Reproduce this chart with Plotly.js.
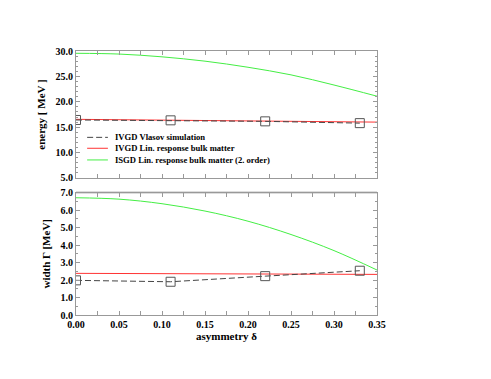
<!DOCTYPE html>
<html>
<head>
<meta charset="utf-8">
<script src="https://cdn.plot.ly/plotly-3.0.1.min.js"></script>
<style>html,body{margin:0;padding:0;background:#fff;}#chart{width:491px;height:379px;}</style>
</head>
<body>
<div id="chart"></div>
<script>
// Simulation points (asymmetry delta)
const vlasovDelta = [0.0, 0.11, 0.22, 0.33];
const vlasovEnergy = [16.42, 16.35, 16.15, 15.8];
const vlasovWidth = [1.98, 1.9, 2.22, 2.53];

// Linear response IVGD
const ivgdDelta = [0.0, 0.35];
const ivgdEnergy = [16.55, 16.0];
const ivgdWidth = [2.38, 2.32];

// Linear response ISGD (2. order)
const isgdDelta = [0.0, 0.05, 0.10, 0.15, 0.20, 0.25, 0.30, 0.35];
const isgdEnergy = [29.55, 29.4, 28.85, 28.0, 26.8, 25.3, 23.3, 21.1];
const isgdWidth = [6.70, 6.62, 6.36, 5.94, 5.36, 4.6, 3.68, 2.57];

const names = ['IVGD Vlasov simulation', 'IVGD Lin. response bulk matter', 'ISGD Lin. response bulk matter (2. order)'];

const serif = {family: 'Liberation Serif, Times New Roman, serif', color: '#000', weight: 'bold'};
const lineV = {color: '#444', width: 1, dash: '6px,3px'};
const markV = {symbol: 'square-open', size: 9, color: '#555', line: {width: 1, color: '#555'}};
const lineR = {color: '#ff3333', width: 1};
const lineG = {shape: 'spline', color: '#44ee44', width: 1};

const traces = [
  {x: isgdDelta, y: isgdEnergy, xaxis: 'x', yaxis: 'y', mode: 'lines', line: lineG},
  {x: ivgdDelta, y: ivgdEnergy, xaxis: 'x', yaxis: 'y', mode: 'lines', line: lineR},
  {x: vlasovDelta, y: vlasovEnergy, xaxis: 'x', yaxis: 'y', mode: 'lines+markers', line: lineV, marker: markV},
  {x: isgdDelta, y: isgdWidth, xaxis: 'x2', yaxis: 'y2', mode: 'lines', line: lineG},
  {x: ivgdDelta, y: ivgdWidth, xaxis: 'x2', yaxis: 'y2', mode: 'lines', line: lineR},
  {x: vlasovDelta, y: vlasovWidth, xaxis: 'x2', yaxis: 'y2', mode: 'lines+markers', line: lineV, marker: markV}
];

const axCommon = {
  showline: true, linecolor: '#999', linewidth: 1, mirror: 'ticks',
  ticks: 'inside', ticklen: 4, tickcolor: '#999', tickwidth: 1,
  showgrid: false, zeroline: false,
  tickfont: Object.assign({size: 10}, serif)
};

// Legend drawn as lines + text inside the top panel
const legendY = [0.320, 0.234, 0.142];
const legendStyles = [lineV, lineR, {color: '#44ee44', width: 1}];
const shapes = [{type: 'line', xref: 'x2 domain', yref: 'y2 domain', x0: 0, x1: 1, y0: 1, y1: 1,
                 line: {color: '#dddddd', width: 3}, layer: 'below'}];
const annotations = [];
names.forEach((n, i) => {
  shapes.push({type: 'line', xref: 'x domain', yref: 'y domain', x0: 0.037, x1: 0.106, y0: legendY[i], y1: legendY[i],
               line: legendStyles[i]});
  annotations.push({xref: 'x domain', yref: 'y domain', x: 0.123, y: legendY[i], xanchor: 'left', yanchor: 'middle',
                    text: n, showarrow: false, font: Object.assign({size: 8.6}, serif)});
});

const layout = {
  width: 491, height: 379,
  margin: {l: 76, r: 114, t: 51, b: 64},
  paper_bgcolor: '#fff', plot_bgcolor: '#fff',
  showlegend: false,
  xaxis: Object.assign({}, axCommon, {domain: [0, 1], anchor: 'y', range: [0, 0.35], dtick: 0.05, tick0: 0,
           showticklabels: false, minor: {dtick: 0.025, ticks: 'inside', ticklen: 4, tickcolor: '#999'}}),
  yaxis: Object.assign({}, axCommon, {domain: [0.519, 1], anchor: 'x', range: [5, 30], dtick: 5, tickformat: '.1f',
           minor: {dtick: 1, ticks: 'inside', ticklen: 2, tickcolor: '#999'},
           title: {text: 'energy [ MeV ]', font: Object.assign({size: 11}, serif), standoff: 7}}),
  xaxis2: Object.assign({}, axCommon, {domain: [0, 1], anchor: 'y2', range: [0, 0.35], dtick: 0.05, tick0: 0, tickformat: '.2f',
           minor: {dtick: 0.025, ticks: 'inside', ticklen: 4, tickcolor: '#999'},
           title: {text: 'asymmetry δ', font: Object.assign({size: 11}, serif), standoff: 2}}),
  yaxis2: Object.assign({}, axCommon, {domain: [0, 0.464], anchor: 'x2', range: [0, 7], dtick: 1, tickformat: '.1f',
           minor: {dtick: 0.5, ticks: 'inside', ticklen: 2, tickcolor: '#999'},
           title: {text: 'width Γ [MeV]', font: Object.assign({size: 11}, serif), standoff: 7}}),
  shapes: shapes,
  annotations: annotations
};

Plotly.newPlot('chart', traces, layout, {displayModeBar: false, staticPlot: true});
</script>
</body>
</html>
